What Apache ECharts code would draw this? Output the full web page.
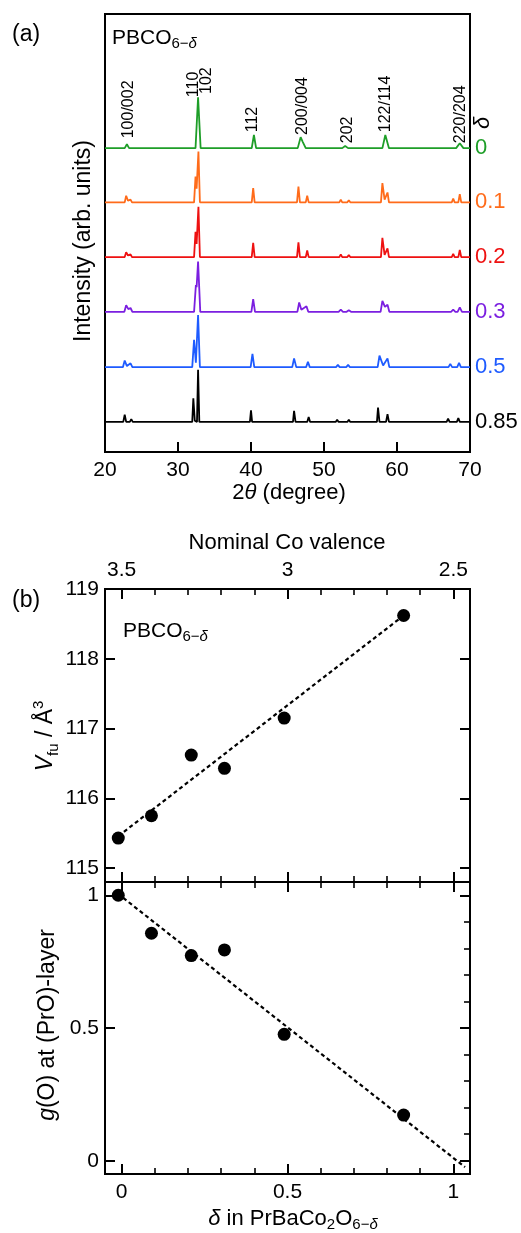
<!DOCTYPE html>
<html><head><meta charset="utf-8">
<script src="https://cdn.jsdelivr.net/npm/echarts@6/dist/echarts.min.js"></script>
<style>html,body{margin:0;padding:0;background:#fff;}#c{width:521px;height:1233px;}</style>
</head><body><div id="c"></div>
<script>
// ---------- Panel (a): XRD patterns, [2theta, relative intensity] ----------
const deltaNames = ['0', '0.1', '0.2', '0.3', '0.5', '0.85'];
const baselineOffsets = [555, 456, 356, 256, 155, 55];
const xrd_0 = [[20,0],[22.7,0],[23.0,7],[23.3,0],[32.4,0],[32.75,93],[33.1,0],[40.1,0],[40.4,24],[40.7,0],[46.4,0],[46.8,20],[47.1,11],[47.5,0],[52.5,0],[52.9,4],[53.3,0],[58.0,0],[58.4,24],[58.9,0],[68.1,0],[68.6,9],[69.1,0],[70,0]];
const xrd_01 = [[20,0],[22.7,0],[22.9,12],[23.15,3],[23.5,5],[23.7,0],[32.2,0],[32.4,47],[32.55,25],[32.8,93],[33.0,0],[40.1,0],[40.3,26],[40.5,0],[46.3,0],[46.5,29],[46.7,0],[47.5,0],[47.7,12],[47.9,0],[52.1,0],[52.3,5],[52.5,0],[53.2,0],[53.4,4],[53.6,0],[57.8,0],[58.0,35],[58.3,5],[58.7,18],[58.9,0],[67.5,0],[67.7,7],[67.9,0],[68.4,0],[68.6,15],[68.8,0],[70,0]];
const xrd_02 = [[20,0],[22.7,0],[22.9,9],[23.15,3],[23.5,5],[23.7,0],[32.2,0],[32.4,46],[32.55,24],[32.8,92],[33.0,0],[40.1,0],[40.3,26],[40.5,0],[46.3,0],[46.5,27],[46.7,0],[47.5,0],[47.7,12],[47.9,0],[52.1,0],[52.3,5],[52.5,0],[53.2,0],[53.4,4],[53.6,0],[57.8,0],[58.0,35],[58.3,4],[58.7,16],[58.9,0],[67.5,0],[67.7,6],[67.9,0],[68.4,0],[68.6,13],[68.8,0],[70,0]];
const xrd_03 = [[20,0],[22.65,0],[22.9,12],[23.2,5],[23.5,7],[23.75,0],[32.2,0],[32.45,49],[32.55,45],[32.75,92],[33.05,0],[40.05,0],[40.3,23],[40.55,0],[46.35,0],[46.6,17],[46.9,4],[47.6,10],[47.85,0],[52.0,0],[52.3,4],[52.6,0],[53.1,0],[53.4,3],[53.7,0],[57.75,0],[58.0,20],[58.35,9],[58.7,13],[58.95,0],[67.4,0],[67.7,4],[68.0,0],[68.3,0],[68.6,8],[68.9,0],[70,0]];
const xrd_05 = [[20,0],[22.45,0],[22.7,12],[23.0,2],[23.5,7],[23.75,0],[31.95,0],[32.2,50],[32.45,8],[32.75,95],[33.0,0],[39.95,0],[40.2,24],[40.45,0],[45.65,0],[45.9,16],[46.2,0],[47.55,0],[47.8,10],[48.05,0],[51.65,0],[51.9,4],[52.15,0],[53.05,0],[53.3,4],[53.55,0],[57.35,0],[57.6,21],[58.1,3],[58.7,16],[58.95,0],[67.05,0],[67.3,6],[67.55,0],[68.25,0],[68.5,8],[68.75,0],[70,0]];
const xrd_085 = [[20,0],[22.5,0],[22.7,13],[22.9,0],[23.4,0],[23.6,5],[23.8,0],[31.95,0],[32.1,43],[32.3,2],[32.6,0],[32.75,95],[32.92,0],[39.85,0],[40.0,21],[40.15,0],[45.75,0],[45.9,20],[46.1,0],[47.7,0],[47.9,9],[48.1,0],[51.6,0],[51.8,4],[52.0,0],[53.2,0],[53.4,4],[53.6,0],[57.25,0],[57.4,26],[57.6,0],[58.5,0],[58.7,14],[58.9,0],[66.8,0],[67.0,6],[67.2,0],[68.2,0],[68.4,7],[68.6,0],[70,0]];
const patterns = [xrd_0, xrd_01, xrd_02, xrd_03, xrd_05, xrd_085];
const xrdTicks = [20, 30, 40, 50, 60, 70];
const peakNames = ['100/002', '110', '102', '112', '200/004', '202', '122/114', '220/204'];
const peakLabelAt = [[23.3,573],[32.2,648],[33.9,654],[40.2,584],[47.0,579],[53.3,564],[58.5,584],[68.7,564]];

// ---------- Panel (b) ----------
const deltaVals = [-0.01, 0.09, 0.21, 0.31, 0.49, 0.85];
const vfuVals = [115.43, 115.75, 116.62, 116.43, 117.15, 118.62];
const gOVals = [1.00, 0.857, 0.773, 0.794, 0.476, 0.172];
const vfuFit = [[0.007, 115.52], [0.85, 118.62]];
const gOFit = [[0.005, 0.99], [1.035, -0.024]];
const vfuTicks = [115, 116, 117, 118, 119];
const deltaMajor = [0, 0.5, 1];
const deltaMinor = [0.1, 0.2, 0.3, 0.4, 0.6, 0.7, 0.8, 0.9];
const valenceMajor = [3.5, 3, 2.5];
const valenceMinor = [3.4, 3.3, 3.2, 3.1, 2.9, 2.8, 2.7, 2.6];
const gOMajor = [0, 0.5, 1];
const gOMinor = [0.1, 0.2, 0.3, 0.4, 0.6, 0.7, 0.8, 0.9];

const colors = ['#1e9e28', '#ff6b1a', '#ee1111', '#7b1fe0', '#1e5bff', '#000000'];
const F = '"Liberation Sans", Arial, Helvetica, sans-serif';

function tickAxis(gi, pos, min, max, ticks, len, w, showLabels, extra) {
  return Object.assign({
    type: 'value', gridIndex: gi, position: pos, min: min, max: max,
    axisLine: {show: false, onZero: false}, splitLine: {show: false},
    axisTick: {show: true, inside: true, length: len, lineStyle: {color: '#000', width: w}, customValues: ticks},
    axisLabel: {show: showLabels, customValues: ticks, fontFamily: F, fontSize: 21, color: '#000', margin: 8}
  }, extra || {});
}

const chart = echarts.init(document.getElementById('c'));
const gridStyle = {show: true, borderColor: '#000', borderWidth: 2, backgroundColor: 'transparent'};

const series = [];
patterns.forEach((p, i) => {
  series.push({
    type: 'line', name: deltaNames[i], xAxisIndex: 0, yAxisIndex: 0,
    data: p.map(d => [d[0], d[1] + baselineOffsets[i]]),
    showSymbol: false, symbol: 'none', lineStyle: {color: colors[i], width: 1.8},
    endLabel: {show: true, formatter: '{a}', color: colors[i], fontFamily: F, fontSize: 22, distance: 5},
    z: 3
  });
});
series.push({type: 'line', xAxisIndex: 1, yAxisIndex: 1, data: vfuFit, showSymbol: false, symbol: 'none',
  lineStyle: {color: '#000', width: 2.2, type: [4, 3]}, z: 2});
series.push({type: 'scatter', xAxisIndex: 1, yAxisIndex: 1, data: deltaVals.map((d, i) => [d, vfuVals[i]]),
  symbolSize: 13, itemStyle: {color: '#000', opacity: 1}, z: 4});
series.push({type: 'line', xAxisIndex: 5, yAxisIndex: 3, data: gOFit, showSymbol: false, symbol: 'none',
  lineStyle: {color: '#000', width: 2.2, type: [4, 3]}, z: 2});
series.push({type: 'scatter', xAxisIndex: 5, yAxisIndex: 3, data: deltaVals.map((d, i) => [d, gOVals[i]]),
  symbolSize: 13, itemStyle: {color: '#000', opacity: 1}, z: 4});

const option = {
  animation: false,
  backgroundColor: '#fff',
  grid: [
    Object.assign({left: 105, top: 14, width: 365, height: 438}, gridStyle),
    Object.assign({left: 105, top: 589, width: 365, height: 293}, gridStyle),
    Object.assign({left: 105, top: 882, width: 365, height: 292}, gridStyle)
  ],
  xAxis: [
    tickAxis(0, 'bottom', 20, 70, xrdTicks, 10, 2, true),
    tickAxis(1, 'bottom', -0.05, 1.05, deltaMajor, 10, 2, false),
    tickAxis(1, 'bottom', -0.05, 1.05, deltaMinor, 6, 1.6, false),
    tickAxis(1, 'top', 2.45, 3.55, valenceMajor, 10, 2, true, {inverse: true}),
    tickAxis(1, 'top', 2.45, 3.55, valenceMinor, 6, 1.6, false, {inverse: true}),
    tickAxis(2, 'bottom', -0.05, 1.05, deltaMajor, 10, 2, true),
    tickAxis(2, 'bottom', -0.05, 1.05, deltaMinor, 6, 1.6, false),
    tickAxis(2, 'top', -0.05, 1.05, deltaMajor, 10, 2, false),
    tickAxis(2, 'top', -0.05, 1.05, deltaMinor, 6, 1.6, false)
  ],
  yAxis: [
    {type: 'value', gridIndex: 0, min: 0, max: 800, show: false},
    tickAxis(1, 'left', 114.8, 119, vfuTicks, 10, 2, true, {axisLabel: {show: true, customValues: vfuTicks, fontFamily: F, fontSize: 21, color: '#000', margin: 6}}),
    tickAxis(1, 'right', 114.8, 119, vfuTicks, 10, 2, false),
    tickAxis(2, 'left', -0.05, 1.05, gOMajor, 10, 2, true, {axisLabel: {show: true, customValues: gOMajor, fontFamily: F, fontSize: 21, color: '#000', margin: 6}}),
    tickAxis(2, 'right', -0.05, 1.05, gOMajor, 10, 2, false),
    tickAxis(2, 'right', -0.05, 1.05, gOMinor, 6, 1.6, false)
  ],
  series: series
};
chart.setOption(option);

const base = {fontFamily: F, fill: '#000'};
const subRich = {
  m: {fontFamily: F, fontSize: 21, lineHeight: 26},
  s: {fontFamily: F, fontSize: 15, lineHeight: 26, verticalAlign: 'bottom'},
  si: {fontFamily: F, fontSize: 15, fontStyle: 'italic', lineHeight: 26, verticalAlign: 'bottom'}
};
const gfx = [];
function txt(x, y, text, size, opt) {
  gfx.push(Object.assign({type: 'text', x: x, y: y, style: Object.assign({text: text, fontSize: size, align: 'left', verticalAlign: 'middle'}, base, (opt && opt.style) || {})},
    opt && opt.rotation !== undefined ? {rotation: opt.rotation} : {}));
}
txt(12, 35, '(a)', 23);
txt(12, 601, '(b)', 23);
txt(112, 38, '{m|PBCO}{s|6−}{si|δ}', 21, {style: {rich: subRich}});
txt(123, 631, '{m|PBCO}{s|6−}{si|δ}', 21, {style: {rich: subRich}});
// peak labels
peakNames.forEach((n, i) => {
  const p = chart.convertToPixel({xAxisIndex: 0, yAxisIndex: 0}, peakLabelAt[i]);
  txt(p[0], p[1], n, 16, {rotation: Math.PI / 2});
});
txt(483, 123, 'δ', 22, {rotation: Math.PI / 2, style: {align: 'center', fontStyle: 'italic'}});
// axis titles
txt(289, 493, '{n|2}{i|θ}{n| (degree)}', 22, {style: {align: 'center', rich: {n: {fontFamily: F, fontSize: 22}, i: {fontFamily: F, fontSize: 22, fontStyle: 'italic'}}}});
txt(84, 241, 'Intensity (arb. units)', 23, {rotation: Math.PI / 2, style: {align: 'center'}});
txt(287, 543, 'Nominal Co valence', 22, {style: {align: 'center'}});
txt(46, 736, '{i|V}{sb|fu}{n| / Å}{sp|3}', 23, {rotation: Math.PI / 2, style: {align: 'center', rich: {
  i: {fontFamily: F, fontSize: 23, fontStyle: 'italic', lineHeight: 30},
  n: {fontFamily: F, fontSize: 23, lineHeight: 30},
  sb: {fontFamily: F, fontSize: 15, lineHeight: 30, verticalAlign: 'bottom'},
  sp: {fontFamily: F, fontSize: 15, lineHeight: 30, verticalAlign: 'top'}}}});
txt(48, 1025, '{i|g}{n|(O) at (PrO)-layer}', 23, {rotation: Math.PI / 2, style: {align: 'center', rich: {
  i: {fontFamily: F, fontSize: 23, fontStyle: 'italic'}, n: {fontFamily: F, fontSize: 23}}}});
txt(293, 1219, '{i|δ}{n| in PrBaCo}{s|2}{n|O}{s|6−}{si|δ}', 22, {style: {align: 'center', rich: {
  i: {fontFamily: F, fontSize: 22, fontStyle: 'italic', lineHeight: 27},
  n: {fontFamily: F, fontSize: 22, lineHeight: 27},
  s: {fontFamily: F, fontSize: 15, lineHeight: 27, verticalAlign: 'bottom'},
  si: {fontFamily: F, fontSize: 15, fontStyle: 'italic', lineHeight: 27, verticalAlign: 'bottom'}}}});
chart.setOption({graphic: gfx});
</script></body></html>
